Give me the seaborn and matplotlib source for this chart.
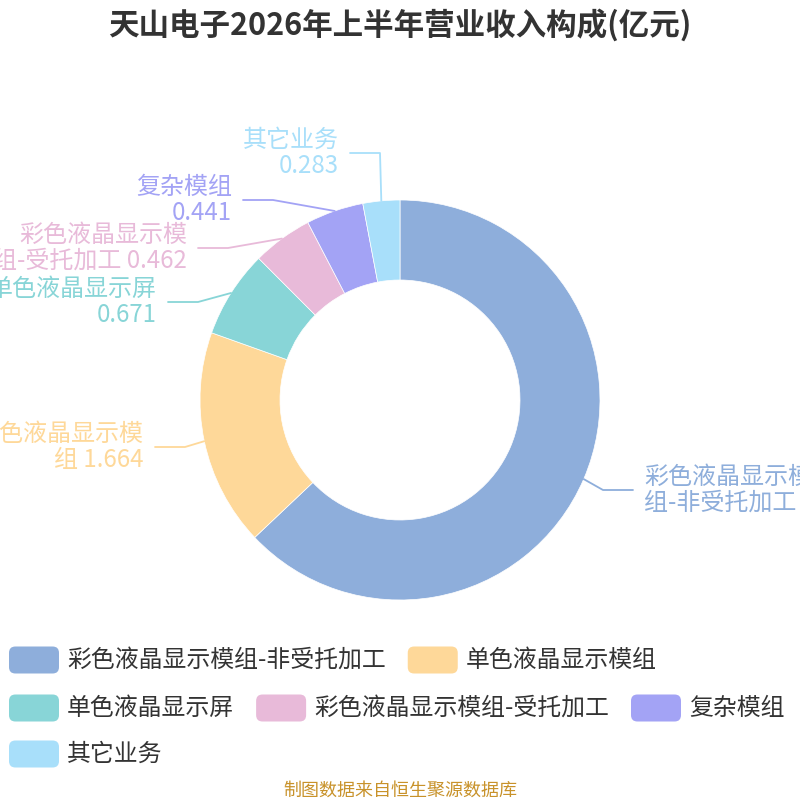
import matplotlib
matplotlib.use('Agg')
import matplotlib.pyplot as plt
import seaborn as sns
import numpy as np
from matplotlib.patches import FancyBboxPatch

# Revenue parts (100 million yuan)
categories = ['彩色液晶显示模组-非受托加工', '单色液晶显示模组', '单色液晶显示屏',
              '彩色液晶显示模组-受托加工', '复杂模组', '其它业务']
values = [5.98, 1.664, 0.671, 0.462, 0.441, 0.283]
label_texts = ['彩色液晶显示模\n组-非受托加工 5.98', '单色液晶显示模\n组 1.664', '单色液晶显示屏\n0.671',
               '彩色液晶显示模\n组-受托加工 0.462', '复杂模组\n0.441', '其它业务\n0.283']
colors = ['#8eaedb', '#fed899', '#88d5d7', '#e8bad9', '#a3a3f5', '#a8dffa']

# label anchor points (after overlap adjustment), in axes units
label_pos = [(1.165, -0.45), (-1.225, -0.235), (-1.16, 0.49),
             (-1.01, 0.76), (-0.785, 1.0), (-0.25, 1.235)]

sns.set_theme(style='white')
plt.rcParams['font.family'] = ['Noto Sans CJK SC', 'DejaVu Sans']

W = H = 800
fig = plt.figure(figsize=(8, 8), dpi=100)
ax = fig.add_axes([0, 0, 1, 1])

wedges, _ = ax.pie(values, colors=colors, startangle=90, counterclock=False,
                   radius=1.0, wedgeprops=dict(width=0.4, edgecolor='white', linewidth=0.5))
ax.set_xlim(-2, 2)
ax.set_ylim(-2, 2)
ax.axis('off')

for w, txt, col, (lx, ly) in zip(wedges, label_texts, colors, label_pos):
    mid = np.deg2rad((w.theta1 + w.theta2) / 2)
    sx, sy = np.cos(mid), np.sin(mid)
    side = 1 if lx > 0 else -1
    ex = lx - side * 0.15
    ax.plot([sx, ex, lx], [sy, ly, ly], color=col, lw=1.3, clip_on=False)
    ax.text(lx + side * 0.055, ly, txt, color=col, fontsize=17.3,
            ha='left' if side > 0 else 'right', va='center', linespacing=1.0)

fig.text(0.5, 0.969, '天山电子2026年上半年营业收入构成(亿元)', ha='center', va='center',
         fontsize=22, fontweight='heavy', color='#333333')
fig.text(0.5, 0.012, '制图数据来自恒生聚源数据库', ha='center', va='center',
         fontsize=13, color='#c8922a')

# flowing legend (rows like the original), laid out in pixels
renderer = fig.canvas.get_renderer()
rows = [[0, 1], [2, 3, 4], [5]]
row_y = [660, 708, 754]
for idx, y in zip(rows, row_y):
    x = 9
    for i in idx:
        box = FancyBboxPatch((x / W, (H - y - 13.5) / H), 50 / W, 27 / H,
                             boxstyle='round,pad=0,rounding_size=0.008',
                             facecolor=colors[i], edgecolor='none',
                             transform=fig.transFigure, figure=fig)
        fig.patches.append(box)
        t = fig.text((x + 58) / W, (H - y) / H, categories[i], fontsize=17.2,
                     color='#333333', ha='left', va='center')
        bb = t.get_window_extent(renderer)
        x = bb.x1 + 22

fig.savefig('out.png', dpi=100)
